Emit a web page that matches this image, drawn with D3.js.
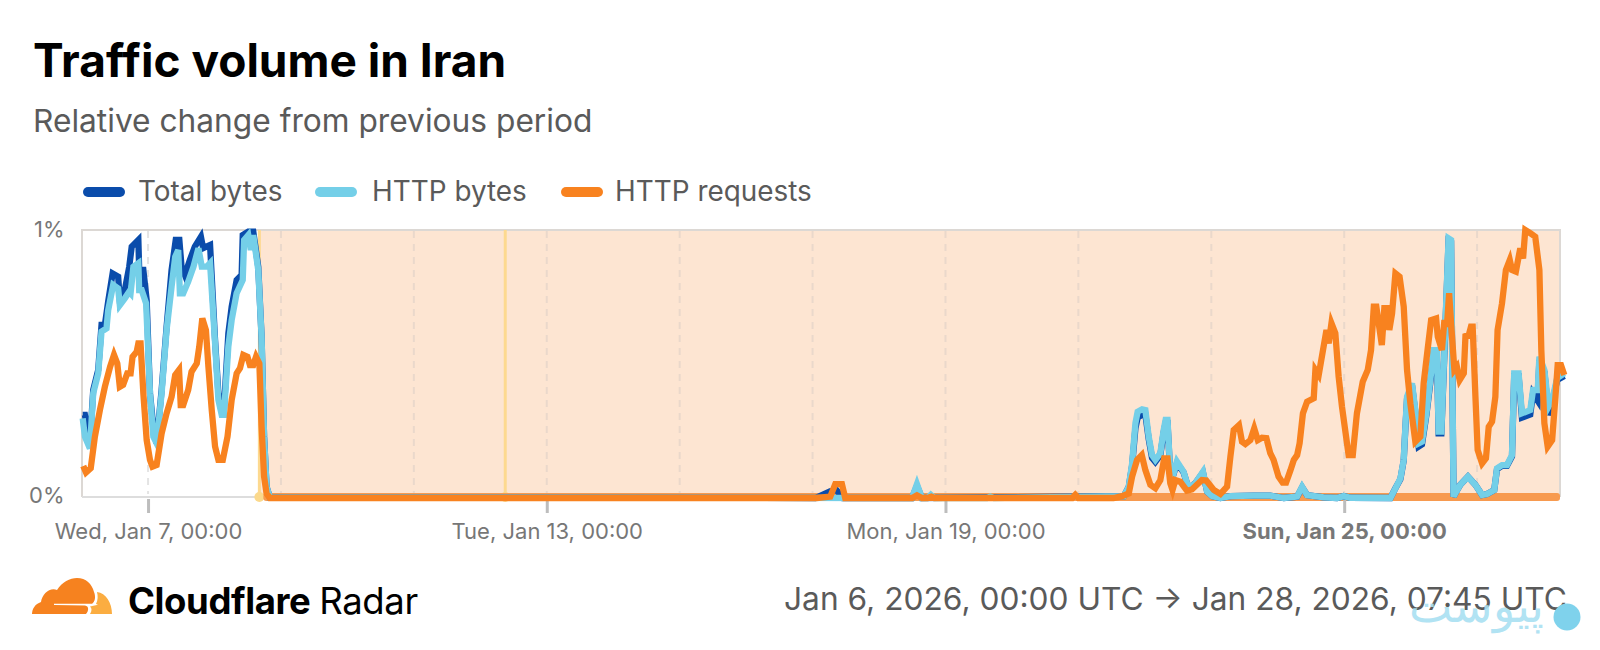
<!DOCTYPE html>
<html><head><meta charset="utf-8">
<script src="https://cdn.jsdelivr.net/npm/d3@7"></script>
<style>
html,body{margin:0;padding:0;background:#fff;overflow:hidden}
text{font-family:Inter,"Noto Sans",sans-serif}
</style></head><body><svg id="c" width="1600" height="650"></svg>
<script>
const titleText="Traffic volume in Iran";
const subtitleText="Relative change from previous period";
const dateText="Jan 6, 2026, 00:00 UTC → Jan 28, 2026, 07:45 UTC";
const seriesNames=["Total bytes","HTTP bytes","HTTP requests"];
const seriesColors=["#0a4cab","#74cfe8","#f8821f"];
const startDate=new Date(Date.UTC(2026,0,6));
const endHour=535.75;
const tickDays=[7,13,19,25];
const tickLabels=["Wed, Jan 7, 00:00","Tue, Jan 13, 00:00","Mon, Jan 19, 00:00","Sun, Jan 25, 00:00"];
const gridDays=[7,9,11,13,15,17,19,21,23,25,27];
const outageHours=[64.2,153];
const bandStartHour=64.2;

const httpHours=[0.4,1.2,3,4.2,6,7.2,9,9.6,11.4,13.2,13.8,15.6,17.2,17.7,18.7,20.5,20.8,21.7,23.3,24.7,25.9,27.1,28.9,30.7,32.5,33.8,34.9,35.5,36.7,38.5,40.4,42.2,43.4,45.2,46.4,48.2,49.4,50.6,51.4,53,54.2,56,58.2,58.7,60.2,61.1,62,63.8,65,65.9,66.8,68,
 299.9,301.7,303.5,305.5,306.7,308,327,328.2,329.5,
 376.4,378.2,379.4,380.6,381.4,383,384.2,385.4,386.6,387.8,389.6,390.8,391.5,392.2,393,394.4,395.6,398,399.8,402.2,405,406.5,408.3,411.3,414.9,423.3,429.3,434.2,439,440.8,442.6,448.6,453.4,455.8,458.2,
 472.7,474.5,476.3,477.5,478.1,478.7,480.5,481.7,482.9,484.1,485.7,487.1,488.3,489.5,490.1,491.1,492.2,493.7,494.6,495.5,496.1,497.9,500.7,503.4,505.8,507.6,510.2,511.2,513,514.8,516.6,517.4,519,520.2,523.2,524.2,525.9,526.5,528.3,529.8,531.1,532.9,535.5];
const httpValues=[.297,.229,.185,.391,.465,.621,.633,.701,.795,.782,.72,.745,.77,.764,.863,.876,.776,.776,.726,.391,.229,.204,.391,.627,.789,.9,.925,.764,.764,.807,.863,.932,.863,.863,.876,.577,.366,.31,.31,.565,.664,.764,.813,.963,.981,.925,.981,.851,.602,.229,.042,.002,
 0,.052,0,0,.012,0,0,.005,0,
 .007,.042,.129,.279,.322,.331,.328,.229,.16,.142,.167,.254,.291,.291,.129,.092,.136,.098,.036,.055,.098,.024,.007,0,.007,.009,.009,0,.005,.042,.011,.002,0,.007,.001,
 0,.036,.073,.142,.266,.378,.428,.328,.204,.21,.316,.44,.552,.552,.248,.248,.552,.969,.963,.005,.017,.049,.08,.049,.011,.015,.03,.111,.123,.123,.16,.465,.465,.316,.328,.403,.403,.527,.478,.341,.366,.447,.465];

const totalHours=[0.4,1.2,3,4.2,6,7.2,8.4,9.6,11.2,13.2,13.8,15.6,17.2,18.1,20.5,20.8,22.3,23.5,24.7,25.9,27.1,28.9,30.7,32.5,34,35.3,36.1,37.3,39.1,40.9,43.1,43.9,46.4,48.2,49.4,50.6,51.4,53,54.2,56,57.8,58.2,60.2,62,63.8,65,65.9,66.8,68,
 265,270.4,272.6,275,299.9,301.7,303.5,
 376.4,378.2,379.4,380.6,381.4,383,384.2,385.4,386.6,387.8,389.6,390.8,391.5,392.2,393,394.4,395.6,398,399.8,402.2,405,406.5,408.3,411.3,414.9,423.3,429.3,434.2,439,440.8,442.6,448.6,453.4,455.8,458.2,
 472.7,474.5,476.3,477.5,478.1,478.7,480.5,481.7,482.9,484.1,485.7,487.1,488.3,489.5,490.1,491.1,492.2,493.7,494.6,495.5,496.1,497.9,500.7,503.4,505.8,507.6,510.2,511.2,513,514.8,516.6,517.4,519,520.2,523.2,524.2,525.9,526.5,528.3,529.8,531.1,532.9,535.5];
const totalValues=[.31,.31,.204,.403,.478,.646,.646,.733,.838,.826,.739,.776,.863,.938,.963,.851,.851,.739,.391,.266,.204,.403,.639,.851,.963,.963,.863,.832,.888,.938,.975,.932,.944,.59,.391,.328,.328,.614,.714,.813,.832,.981,.994,.994,.863,.602,.229,.042,.002,
 0,.025,.03,0,0,.045,0,
 .007,.042,.12,.26,.3,.31,.31,.22,.15,.135,.16,.245,.28,.28,.125,.09,.13,.095,.036,.055,.095,.024,.007,0,.007,.009,.009,0,.005,.04,.011,.002,0,.007,.001,
 0,.036,.07,.14,.26,.37,.42,.32,.192,.2,.31,.43,.54,.54,.241,.241,.54,.96,.955,.005,.017,.049,.08,.049,.011,.015,.03,.108,.12,.12,.155,.455,.455,.3,.312,.39,.363,.515,.47,.31,.35,.44,.455];

const reqHours=[0.6,1.6,3.3,4.8,6.6,8.4,10.3,11.7,12.9,13.8,15,16.5,17.7,18.4,19.9,20.5,21.3,22.3,23.5,24.7,25.6,27.1,28.9,30.7,32.5,33.8,35.2,35.8,36.7,38.5,39.7,41.6,42.5,43.6,44.9,45.8,47,48.2,49.4,51,52.7,54.2,56,57.2,58.4,59.9,60.8,62,63,64.2,65,65.9,66.8,68,
 265.5,270.4,272.2,274.6,275.8,300,301.7,303.5,305.5,306.9,308,357.8,358.9,360,
 372.7,375.8,378.2,379.4,381.2,382.9,384.2,386,387.8,389.6,391,392.2,393.2,394,395,396.8,399.2,401,404.6,406.2,408.9,411.3,413.7,414.9,416.1,418,419.1,420.3,422.1,423.5,424.8,426.3,427.9,429.3,430.5,432.3,433.8,435,436.6,437.8,439,439.9,441.1,442.6,445,445.6,446.8,449.6,450.4,451.4,452.8,454,455.2,457.6,459.1,460.6,462.7,464.5,465.7,466.7,467.6,469.6,470.5,471.5,472.3,473.3,474.5,476,477.5,478.7,479.9,481.7,483.5,484.7,486.1,487.4,489.2,489.8,491.3,492.2,493.1,493.9,494.7,495.8,496.7,497.7,499.2,499.8,501,501.8,502.4,503.4,504.2,505.8,507.2,508.2,509.4,510.6,511.4,513,514.4,515.8,516.6,518,519.6,520.6,521.4,523.2,525,526.5,527.2,528.3,529.5,531.1,532.3,533.1,534.3,535.5];
const reqValues=[.119,.095,.111,.229,.328,.415,.49,.534,.502,.415,.422,.465,.465,.527,.546,.577,.577,.391,.216,.142,.117,.123,.241,.316,.378,.459,.478,.347,.347,.403,.471,.502,.565,.67,.627,.49,.328,.192,.142,.142,.229,.366,.465,.484,.534,.527,.496,.496,.527,.502,.266,.08,.017,0,
 0,.005,.052,.052,0,0,.01,0,0,.005,0,0,.012,0,
 0,.007,.017,.08,.142,.16,.104,.049,.036,.067,.148,.148,.055,.03,.067,.061,.027,.032,.067,.065,.03,.015,.042,.154,.254,.272,.21,.201,.216,.26,.216,.225,.223,.167,.142,.08,.057,.057,.104,.142,.16,.204,.316,.359,.372,.478,.459,.627,.577,.652,.615,.453,.341,.16,.16,.316,.434,.478,.552,.714,.714,.571,.708,.708,.627,.689,.838,.826,.714,.478,.353,.21,.229,.428,.552,.664,.67,.602,.552,.664,.639,.764,.639,.478,.49,.44,.465,.604,.608,.639,.639,.378,.179,.129,.148,.266,.285,.378,.627,.726,.851,.888,.851,.845,.932,.894,1,.988,.975,.851,.552,.279,.192,.216,.378,.496,.496,.459];

const svg=d3.select("#c");
const L=82,T=230,B=498,Rline=1565,Rplot=1560;
const hourDate=h=>new Date(startDate.getTime()+h*3600e3);
const x=d3.scaleUtc().domain([startDate,hourDate(endHour)]).range([81.6,Rline]);
const y=d3.scaleLinear().domain([0,1]).range([B,T]);
const dayDate=d=>new Date(Date.UTC(2026,0,d));

svg.append("text").attr("x",33).attr("y",77).attr("font-size",46).attr("font-weight",700).attr("fill","#000").text(titleText);
svg.append("text").attr("x",33).attr("y",132).attr("font-size",31.7).attr("fill","#5a5a5a").text(subtitleText);

// legend
const legendX=[88,320,566], legendText=[138,372,615];
seriesNames.forEach((n,i)=>{
 svg.append("line").attr("x1",legendX[i]).attr("x2",legendX[i]+32).attr("y1",192).attr("y2",192)
  .attr("stroke",seriesColors[i]).attr("stroke-width",10).attr("stroke-linecap","round");
 svg.append("text").attr("x",legendText[i]).attr("y",201).attr("font-size",27.9).attr("fill","#5a5a5a").text(n);
});

// band
svg.append("rect").attr("x",x(hourDate(bandStartHour))).attr("y",T).attr("width",Rplot-x(hourDate(bandStartHour))).attr("height",267).attr("fill","#fde5d2");
// frame
const frame=d3.path();frame.moveTo(L,B-1);frame.lineTo(L,T);frame.lineTo(Rplot,T);frame.lineTo(Rplot,B-1);
svg.append("path").attr("d",frame.toString()).attr("fill","none").attr("stroke","#dcd8d4").attr("stroke-width",2);
svg.append("line").attr("x1",L).attr("x2",x(hourDate(bandStartHour))).attr("y1",B-1).attr("y2",B-1).attr("stroke","#ddd").attr("stroke-width",2);
// grid
svg.selectAll(".g").data(gridDays).join("line").attr("x1",d=>x(dayDate(d))).attr("x2",d=>x(dayDate(d))).attr("y1",T+1).attr("y2",B-4)
 .attr("stroke",d=>d===7?"#e4e4e4":"#ead8cb").attr("stroke-width",2).attr("stroke-dasharray","7 6");
// outage lines
svg.selectAll(".o").data(outageHours).join("line").attr("x1",d=>x(hourDate(d))).attr("x2",d=>x(hourDate(d))).attr("y1",T).attr("y2",B-1)
 .attr("stroke","#fdd98f").attr("stroke-width",3);
svg.selectAll(".od").data(outageHours).join("circle").attr("cx",d=>x(hourDate(d))).attr("cy",B-1).attr("r",5).attr("fill","#fbd98c");
// baseline strip
svg.append("rect").attr("x",x(hourDate(bandStartHour))+4).attr("y",B-5).attr("width",Rplot-x(hourDate(bandStartHour))-4).attr("height",8).attr("rx",3).attr("fill","#f79a4f");

// ticks
const xAxis=d3.axisBottom(x).tickValues(tickDays.map(dayDate)).tickSize(14).tickFormat((d,i)=>tickLabels[i]);
const ax=svg.append("g").attr("transform",`translate(0,${B+1})`).call(xAxis);
ax.select(".domain").remove();
ax.selectAll(".tick line").attr("stroke","#bdbdbd").attr("stroke-width",3);
ax.selectAll(".tick text").attr("y",23).attr("dy","0.75em").attr("font-size",22).attr("font-family","Inter").attr("fill","#777")
 .attr("font-weight",(d,i)=>i===3?700:400);
const yAxis=d3.axisLeft(y).tickValues([0,1]).tickSize(0).tickFormat(d=>d+"%");
const ay=svg.append("g").attr("transform",`translate(${L-17.5},0)`).call(yAxis);
ay.select(".domain").remove();
ay.selectAll("text").attr("font-size",22).attr("font-family","Inter").attr("fill","#777").attr("x",0)
 .attr("y",d=>d===1?-1:-3).attr("dy","0.32em");

const line=d3.line().x(d=>x(hourDate(d[0]))).y(d=>y(d[1]));
[[totalHours,totalValues],[httpHours,httpValues],[reqHours,reqValues]].forEach((s,i)=>{
 svg.append("path").datum(s[0].map((h,k)=>[h,s[1][k]])).attr("d",line).attr("fill","none")
  .attr("stroke",seriesColors[i]).attr("stroke-width",6.3).attr("stroke-linejoin","miter").attr("stroke-miterlimit",4);
});

// footer logo
const logo=svg.append("g").attr("transform","translate(32,578)");
logo.append("path").attr("fill","#f6821f").attr("d","M0 36 C0 31 3 26 9 24 C10 16 18 9 25 12 C30 4 38 0 45 0 C54 0 60 6 62 14 C64 19 63 24 60 25.7 L22 25.7 L22 27 L53 27.5 C57 28 57 33 54 36 Z");
logo.append("path").attr("fill","#fbad41").attr("d","M65 14 C74 15 80 25 80 36 L58 36 C60 33 60 30 58 28.5 L66 26.7 L64 26 C66 22 66 18 65 14 Z");
svg.append("text").attr("x",128).attr("y",614).attr("font-size",36.5).attr("fill","#000").attr("letter-spacing",-0.4)
 .call(t=>{t.append("tspan").attr("font-weight",700).text("Cloudflare");t.append("tspan").attr("dx",9).attr("font-weight",400).text("Radar");});
svg.append("text").attr("x",1567).attr("y",610).attr("text-anchor","end").attr("font-size",31.7).attr("fill","#5a5a5a").text(dateText);

// watermark
svg.append("text").attr("x",1544).attr("y",622).attr("text-anchor","end").attr("font-family","DejaVu Sans").attr("font-size",46).attr("fill","#a9e0f2").attr("opacity",.9).text("پیوست");
svg.append("circle").attr("cx",1567).attr("cy",617).attr("r",13.5).attr("fill","#7fd2ec");
</script></body></html>
